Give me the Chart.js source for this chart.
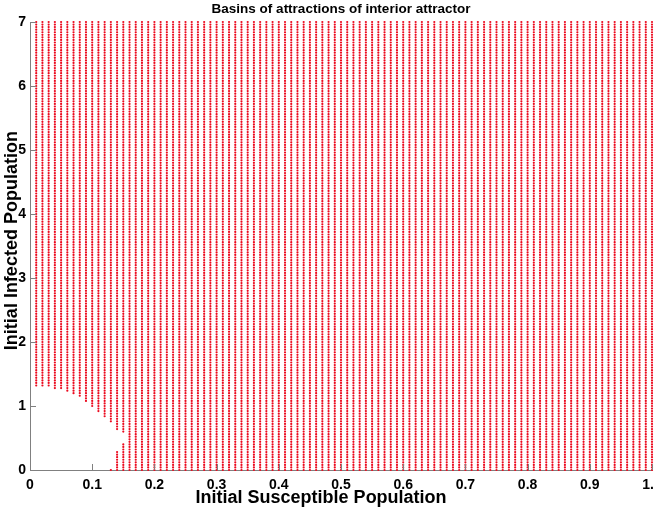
<!DOCTYPE html>
<html>
<head>
<meta charset="utf-8">
<title>Basins of attractions of interior attractor</title>
<script src="https://cdn.jsdelivr.net/npm/chart.js@4.4.0/dist/chart.umd.min.js"></script>
<style>
  html, body { margin: 0; padding: 0; background: #fff; }
  #wrap { width: 654px; height: 508px; }
</style>
</head>
<body>
<div id="wrap"><canvas id="basinChart" width="654" height="508"></canvas></div>
<script>
// initial conditions grid (susceptible on x, infected on y)
const gridX = [
  0.01, 0.02, 0.03, 0.04, 0.05, 0.06, 0.07, 0.08, 0.09, 0.1,
  0.11, 0.12, 0.13, 0.14, 0.15, 0.16, 0.17, 0.18, 0.19, 0.2,
  0.21, 0.22, 0.23, 0.24, 0.25, 0.26, 0.27, 0.28, 0.29, 0.3,
  0.31, 0.32, 0.33, 0.34, 0.35, 0.36, 0.37, 0.38, 0.39, 0.4,
  0.41, 0.42, 0.43, 0.44, 0.45, 0.46, 0.47, 0.48, 0.49, 0.5,
  0.51, 0.52, 0.53, 0.54, 0.55, 0.56, 0.57, 0.58, 0.59, 0.6,
  0.61, 0.62, 0.63, 0.64, 0.65, 0.66, 0.67, 0.68, 0.69, 0.7,
  0.71, 0.72, 0.73, 0.74, 0.75, 0.76, 0.77, 0.78, 0.79, 0.8,
  0.81, 0.82, 0.83, 0.84, 0.85, 0.86, 0.87, 0.88, 0.89, 0.9,
  0.91, 0.92, 0.93, 0.94, 0.95, 0.96, 0.97, 0.98, 0.99, 1
];
const gridY = [
  0, 0.04, 0.08, 0.12, 0.16, 0.2, 0.24, 0.28, 0.32, 0.36, 0.4, 0.44, 0.48, 0.52, 0.56, 0.6, 0.64, 0.68, 0.72, 0.76, 0.8, 0.84, 0.88, 0.92, 0.96,
  1, 1.04, 1.08, 1.12, 1.16, 1.2, 1.24, 1.28, 1.32, 1.36, 1.4, 1.44, 1.48, 1.52, 1.56, 1.6, 1.64, 1.68, 1.72, 1.76, 1.8, 1.84, 1.88, 1.92, 1.96,
  2, 2.04, 2.08, 2.12, 2.16, 2.2, 2.24, 2.28, 2.32, 2.36, 2.4, 2.44, 2.48, 2.52, 2.56, 2.6, 2.64, 2.68, 2.72, 2.76, 2.8, 2.84, 2.88, 2.92, 2.96,
  3, 3.04, 3.08, 3.12, 3.16, 3.2, 3.24, 3.28, 3.32, 3.36, 3.4, 3.44, 3.48, 3.52, 3.56, 3.6, 3.64, 3.68, 3.72, 3.76, 3.8, 3.84, 3.88, 3.92, 3.96,
  4, 4.04, 4.08, 4.12, 4.16, 4.2, 4.24, 4.28, 4.32, 4.36, 4.4, 4.44, 4.48, 4.52, 4.56, 4.6, 4.64, 4.68, 4.72, 4.76, 4.8, 4.84, 4.88, 4.92, 4.96,
  5, 5.04, 5.08, 5.12, 5.16, 5.2, 5.24, 5.28, 5.32, 5.36, 5.4, 5.44, 5.48, 5.52, 5.56, 5.6, 5.64, 5.68, 5.72, 5.76, 5.8, 5.84, 5.88, 5.92, 5.96,
  6, 6.04, 6.08, 6.12, 6.16, 6.2, 6.24, 6.28, 6.32, 6.36, 6.4, 6.44, 6.48, 6.52, 6.56, 6.6, 6.64, 6.68, 6.72, 6.76, 6.8, 6.84, 6.88, 6.92, 6.96,
  7
];

// columns where part of the grid is NOT attracted (white hole near origin)
// points with holeLow <= y < holeHigh are left out
const holeX    = [0.01, 0.02, 0.03, 0.04, 0.05, 0.06, 0.07, 0.08, 0.09, 0.1, 0.11, 0.12, 0.13, 0.14, 0.15];
const holeLow  = [0,    0,    0,    0,    0,    0,    0,    0,    0,    0,   0,    0,    0.02, 0.30, 0.42];
const holeHigh = [1.32, 1.32, 1.29, 1.28, 1.26, 1.23, 1.20, 1.15, 1.08, 1.00, 0.92, 0.84, 0.76, 0.64, 0.60];

const xTicks = [0, 0.1, 0.2, 0.3, 0.4, 0.5, 0.6, 0.7, 0.8, 0.9, 1];
const yTicks = [0, 1, 2, 3, 4, 5, 6, 7];

const chartTitle = "Basins of attractions of interior attractor";
const xTitle = "Initial Susceptible Population";
const yTitle = "Initial Infected Population";

const FONT = "'Liberation Sans', Arial, Helvetica, sans-serif";

// build the attracted points
let basinPoints = [];
gridX.forEach((x) => {
  const h = holeX.findIndex((v) => Math.abs(v - x) < 1e-9);
  gridY.forEach((y) => {
    if (h >= 0 && y >= holeLow[h] - 1e-9 && y < holeHigh[h] - 1e-9) return;
    basinPoints.push({ x: x, y: y });
  });
});

// matlab style tick marks pointing into the plot
const inwardTicks = {
  id: "inwardTicks",
  afterDatasetsDraw(chart) {
    const { ctx, chartArea, scales } = chart;
    ctx.save();
    ctx.strokeStyle = "#808080";
    ctx.lineWidth = 1;
    ctx.beginPath();
    scales.x.ticks.forEach((t) => {
      const px = Math.round(scales.x.getPixelForValue(t.value)) + 0.5;
      ctx.moveTo(px, chartArea.bottom);
      ctx.lineTo(px, chartArea.bottom - 6);
    });
    scales.y.ticks.forEach((t) => {
      const py = Math.round(scales.y.getPixelForValue(t.value)) + 0.5;
      ctx.moveTo(chartArea.left, py);
      ctx.lineTo(chartArea.left + 6, py);
    });
    ctx.stroke();
    ctx.restore();
  },
};

// axis labels, placed like the matlab figure (slightly off centre)
const axisLabels = {
  id: "axisLabels",
  afterDraw(chart) {
    const { ctx, chartArea } = chart;
    const w = chartArea.right - chartArea.left;
    const h = chartArea.bottom - chartArea.top;
    ctx.save();
    ctx.fillStyle = "#000";
    ctx.font = "bold 18px " + FONT;
    ctx.textAlign = "center";
    ctx.textBaseline = "middle";
    ctx.fillText(xTitle, chartArea.left + w * 0.468, chartArea.bottom + 28);
    ctx.translate(12, chartArea.top + h * 0.488);
    ctx.rotate(-Math.PI / 2);
    ctx.fillText(yTitle, 0, 0);
    ctx.restore();
  },
};

const ctx = document.getElementById("basinChart").getContext("2d");
const basinChart = new Chart(ctx, {
  type: "scatter",
  data: {
    datasets: [
      {
        label: "interior attractor",
        data: basinPoints,
        backgroundColor: "rgb(235, 10, 30)",
        borderWidth: 0,
        pointRadius: 1.1,
        pointHoverRadius: 1.1,
        clip: false,
      },
    ],
  },
  options: {
    responsive: false,
    animation: false,
    events: [],
    layout: { padding: { left: 0, right: 2, top: 0, bottom: 0 } },
    plugins: {
      legend: { display: false },
      tooltip: { enabled: false },
      title: {
        display: true,
        fullSize: false,
        text: chartTitle,
        color: "#000",
        font: { family: FONT, size: 13.5, weight: "bold", lineHeight: 1.2 },
        padding: { top: 1, bottom: 4.8 },
      },
    },
    scales: {
      x: {
        type: "linear",
        min: 0,
        max: 1,
        afterBuildTicks: (scale) => {
          scale.ticks = xTicks.map((v) => ({ value: v }));
        },
        afterFit: (scale) => {
          scale.height = 38;
          scale.paddingRight = 2;
        },
        grid: { display: false, drawTicks: false },
        border: { display: true, color: "#808080", width: 1 },
        ticks: {
          color: "#000",
          padding: 7,
          maxRotation: 0,
          font: { family: FONT, size: 14, weight: "bold" },
        },
      },
      y: {
        type: "linear",
        min: 0,
        max: 7,
        afterBuildTicks: (scale) => {
          scale.ticks = yTicks.map((v) => ({ value: v }));
        },
        afterFit: (scale) => {
          scale.width = 30;
        },
        grid: { display: false, drawTicks: false },
        border: { display: true, color: "#808080", width: 1 },
        ticks: {
          color: "#000",
          padding: 4,
          font: { family: FONT, size: 14, weight: "bold" },
        },
      },
    },
  },
  plugins: [inwardTicks, axisLabels],
});
</script>
</body>
</html>
